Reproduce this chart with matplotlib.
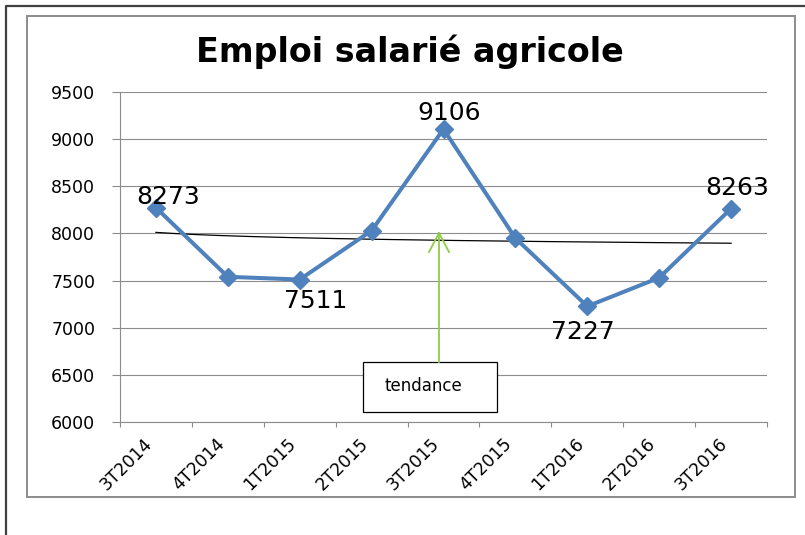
import numpy as np
import matplotlib
matplotlib.use('Agg')
import matplotlib.pyplot as plt
from matplotlib.lines import Line2D
from matplotlib.patches import Rectangle
from matplotlib.transforms import ScaledTranslation

# data
quarters = ['3T2014', '4T2014', '1T2015', '2T2015', '3T2015',
            '4T2015', '1T2016', '2T2016', '3T2016']
emploi = [8273, 7540, 7511, 8030, 9106, 7950, 7227, 7530, 8263]
labelled = [0, 2, 4, 6, 8]
yticks = [6000, 6500, 7000, 7500, 8000, 8500, 9000, 9500]

W, H = 805, 535
blue = '#4F81BD'
gray = '#8c8c8c'
green = '#8FCC48'


def fx(x):
    return x / W


def fy(y):
    return 1 - y / H


fig = plt.figure(figsize=(W / 100, H / 100), dpi=100)
plt.rcParams['font.family'] = ['DejaVu Sans']

# outer frame (top and left only visible) and inner chart border
fig.add_artist(Line2D([fx(6), fx(6), fx(805)], [fy(535), fy(5.5), fy(5.5)],
                      color='#404040', lw=1.6))
fig.add_artist(Rectangle((fx(27), fy(497)), fx(795) - fx(27), fy(16) - fy(497),
                         fill=False, edgecolor=gray, lw=1.4))

ax = fig.add_axes([fx(120), fy(422), fx(767) - fx(120), fy(92) - fy(422)])

x = np.arange(len(quarters))
ax.plot(x, emploi, color=blue, lw=2.9, marker='D', markersize=9, zorder=4,
        clip_on=False)

# logarithmic trend line (Excel style)
a, b = np.polyfit(np.log(x + 1), emploi, 1)
xs = np.linspace(0, len(quarters) - 1, 200)
ax.plot(xs, a * np.log(xs + 1) + b, color='black', lw=0.9, zorder=3)

# data labels
offsets = {0: (12, 11), 2: (16, -21), 4: (6, 16), 6: (-4, -26), 8: (6, 21)}
for i in labelled:
    ax.annotate(str(emploi[i]), (x[i], emploi[i]), xytext=offsets[i],
                textcoords='offset pixels', ha='center', va='center',
                fontsize=18, zorder=5)

ax.set_xlim(-0.5, len(quarters) - 0.5)
ax.set_ylim(6000, 9500)
ax.set_yticks(yticks)
ax.set_yticklabels([str(v) for v in yticks])
ax.set_xticks(x)
ax.set_xticklabels(quarters, rotation=45, ha='right', va='top')
ax.set_xticks(np.arange(-0.5, len(quarters)), minor=True)
shift = ScaledTranslation(5 / 100, 2 / 100, fig.dpi_scale_trans)
for lab in ax.get_xticklabels():
    lab.set_transform(lab.get_transform() + shift)

ax.tick_params(axis='y', length=5.8, width=0.8, color=gray, pad=12,
               labelsize=12.5)
ax.tick_params(axis='x', which='major', length=0, pad=9, labelsize=12.5)
ax.tick_params(axis='x', which='minor', length=3.6, width=0.8, color=gray)

ax.grid(axis='y', color=gray, lw=0.8)
ax.set_axisbelow(True)
for s in ['top', 'right']:
    ax.spines[s].set_visible(False)
for s in ['left', 'bottom']:
    ax.spines[s].set_color(gray)
    ax.spines[s].set_linewidth(0.8)

# "tendance" box with green arrow
ax_l, ax_b, ax_w, ax_h = 120, 422, 647, 330


def ax_px(px, py):
    return (px - ax_l) / ax_w, (ax_b - py) / ax_h


bx0, by0 = ax_px(363, 412)
bx1, by1 = ax_px(497, 362)
ax.add_patch(Rectangle((bx0, by0), bx1 - bx0, by1 - by0, transform=ax.transAxes,
                       facecolor='white', edgecolor='black', lw=0.9, zorder=6))
tx, ty = ax_px(423, 386)
ax.text(tx, ty, 'tendance', transform=ax.transAxes, ha='center', va='center',
        fontsize=12, zorder=7)

ax_x, tip_y = ax_px(439, 233)
_, bot_y = ax_px(439, 362)
ax.add_line(Line2D([ax_x, ax_x], [bot_y, tip_y], transform=ax.transAxes,
                   color=green, lw=1.3, zorder=6))
lx, ly = ax_px(429, 252)
rx, _ = ax_px(449, 252)
ax.add_line(Line2D([lx, ax_x, rx], [ly, tip_y, ly], transform=ax.transAxes,
                   color=green, lw=1.3, zorder=6))

fig.text(fx(410), fy(62), 'Emploi salarié agricole', ha='center', va='baseline',
         fontsize=24, fontweight='bold')

fig.savefig('out.png', dpi=100)
